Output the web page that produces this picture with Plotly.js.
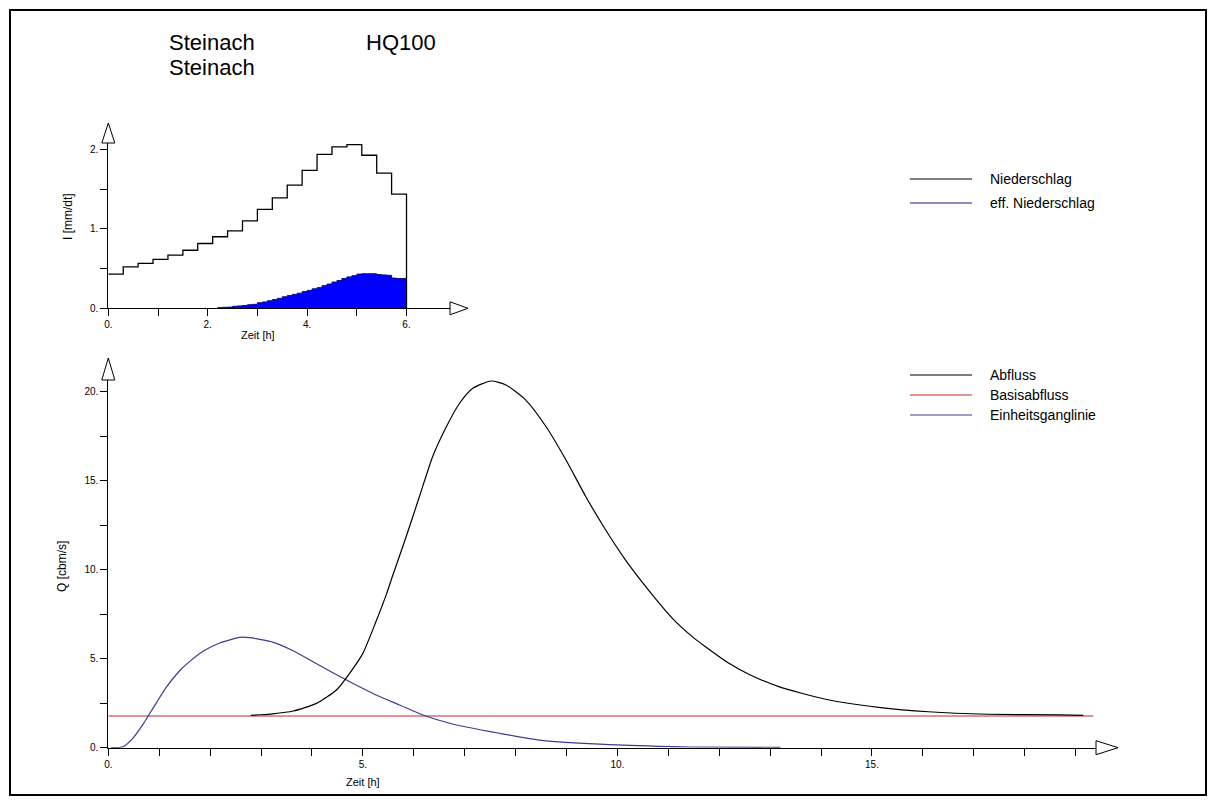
<!DOCTYPE html>
<html><head><meta charset="utf-8">
<script src="https://cdn.plot.ly/plotly-3.0.1.min.js"></script>
<style>html,body{margin:0;padding:0;background:#fff}#c{width:1215px;height:803px}</style>
</head><body><div id="c"></div>
<script>
// ---------- data ----------
// Niederschlag (rain), 0.3 h steps, value per step [mm/dt]
const rainStartT = [0,0.3,0.6,0.9,1.2,1.5,1.8,2.1,2.4,2.7,3.0,3.3,3.6,3.9,4.2,4.5,4.8,5.1,5.4,5.7,6.0];
const rainI = [0.43,0.52,0.565,0.615,0.67,0.73,0.815,0.90,0.975,1.10,1.245,1.39,1.55,1.735,1.935,2.03,2.06,1.925,1.70,1.435];
// effektiver Niederschlag, 0.1 h steps from 2.2 h
const effT = [2.2,2.3,2.4,2.5,2.6,2.7,2.8,2.9,3.0,3.1,3.2,3.3,3.4,3.5,3.6,3.7,3.8,3.9,4.0,4.1,4.2,4.3,4.4,4.5,4.6,4.7,4.8,4.9,5.0,5.1,5.2,5.3,5.4,5.5,5.6,5.7,5.8,5.9,6.0];
const effI = [0.01,0.013,0.015,0.025,0.03,0.035,0.045,0.05,0.07,0.08,0.095,0.11,0.125,0.145,0.16,0.175,0.19,0.21,0.225,0.245,0.26,0.285,0.305,0.33,0.35,0.375,0.395,0.41,0.43,0.435,0.435,0.435,0.425,0.42,0.415,0.38,0.375,0.375];
// Abfluss
const qT = [2.8,3.0,3.23,3.63,4.09,4.48,4.74,5.0,5.26,5.46,5.59,5.85,6.11,6.37,6.64,6.9,7.16,7.52,7.81,8.2,8.6,8.99,9.38,9.77,10.16,10.56,11.08,11.47,11.73,12.19,12.6,13.17,14.09,15.13,16.11,17.29,18.66,19.15];
const qQ = [1.82,1.85,1.9,2.06,2.49,3.24,4.18,5.3,7.1,8.6,9.7,11.85,14.1,16.35,18.03,19.35,20.19,20.6,20.38,19.53,18.03,16.16,14.1,12.23,10.54,9.04,7.27,6.24,5.67,4.74,4.1,3.43,2.72,2.27,2.02,1.88,1.84,1.82];
// Basisabfluss
const baseT = [0,19.35];
const baseQ = [1.78,1.78];
// Einheitsganglinie
const uhT = [0.05,0.29,0.49,0.69,0.82,0.95,1.14,1.41,1.6,1.86,2.19,2.58,2.78,3.24,3.63,4.02,4.41,4.8,5.26,5.72,6.18,6.76,7.68,8.47,9.65,10.8,11.4,13.2];
const uhQ = [0.0,0.05,0.55,1.35,1.95,2.55,3.4,4.35,4.85,5.42,5.88,6.2,6.18,5.92,5.45,4.83,4.21,3.62,2.96,2.4,1.84,1.33,0.81,0.43,0.2,0.08,0.04,0.02];
// tick labels
const topXTicks = [0,1,2,3,4,5,6];
const topXText = ['0.','','2.','','4.','','6.'];
const topYTicks = [0,0.5,1,1.5,2];
const topYText = ['0.','','1.','','2.'];
const botXTicks = [0,1,2,3,4,5,6,7,8,9,10,11,12,13,14,15,16,17,18,19];
const botXText = ['0.','','','','','5.','','','','','10.','','','','','15.','','','',''];
const botYTicks = [0,2.5,5,7.5,10,12.5,15,17.5,20];
const botYText = ['0.','','5.','','10.','','15.','','20.'];

// ---------- layout helpers ----------
const W=1215,H=803;
const px=x=>x/W, py=y=>1-y/H;
const C_UH='#3c3c8c', C_RED='#c42a2a', C_EFF='#0000ff', C_EFFL='#1a1a80';

const rainX = rainStartT.concat([6.0]);
const rainY = rainI.concat([rainI[rainI.length-1],0]);
rainX.push(6.0);
const effY = effI.concat([effI[effI.length-1]]);

const traces = [
 {x:effT, y:effY, type:'scatter', mode:'lines', line:{shape:'hv', color:'#10107a', width:1}, fill:'tozeroy', fillcolor:C_EFF, xaxis:'x', yaxis:'y', name:'eff. Niederschlag', showlegend:false, hoverinfo:'skip'},
 {x:rainX, y:rainY, type:'scatter', mode:'lines', line:{shape:'hv', color:'#000', width:1.3}, xaxis:'x', yaxis:'y', name:'Niederschlag', showlegend:false},
 {x:baseT, y:baseQ, type:'scatter', mode:'lines', line:{color:C_RED, width:1.2}, xaxis:'x2', yaxis:'y2', name:'Basisabfluss', showlegend:false},
 {x:uhT, y:uhQ, type:'scatter', mode:'lines', line:{color:C_UH, width:1.2, shape:'spline', smoothing:0.6}, xaxis:'x2', yaxis:'y2', name:'Einheitsganglinie', showlegend:false},
 {x:qT, y:qQ, type:'scatter', mode:'lines', line:{color:'#000', width:1.2, shape:'spline', smoothing:0.6}, xaxis:'x2', yaxis:'y2', name:'Abfluss', showlegend:false}
];

const tf = {family:'Liberation Sans, Arial, sans-serif', size:10, color:'#000'};
const ax = (o)=>Object.assign({showline:true, linecolor:'#000', linewidth:1, ticks:'outside', ticklen:7, tickwidth:1, tickcolor:'#000', showgrid:false, zeroline:false, tickfont:tf, tickmode:'array', fixedrange:true}, o);

function arrowRight(x0,yc,len,h){return {type:'path', xref:'paper', yref:'paper', line:{color:'#000',width:1}, fillcolor:'#fff',
  path:`M ${px(x0)},${py(yc-h/2)} L ${px(x0+len)},${py(yc)} L ${px(x0)},${py(yc+h/2)} Z`};}
function arrowUp(xc,y0,len,w){return {type:'path', xref:'paper', yref:'paper', line:{color:'#000',width:1}, fillcolor:'#fff',
  path:`M ${px(xc-w/2)},${py(y0)} L ${px(xc)},${py(y0-len)} L ${px(xc+w/2)},${py(y0)} Z`};}
function hline(x0,x1,y,color){return {type:'line', xref:'paper', yref:'paper', x0:px(x0), x1:px(x1), y0:py(y), y1:py(y), line:{color:color,width:1.2}};}

const shapes = [
 {type:'rect', xref:'paper', yref:'paper', x0:px(10), x1:px(1206), y0:py(10), y1:py(795), line:{color:'#000', width:2}},
 arrowRight(450,308.3,18,13),
 arrowUp(108.3,143,20,13),
 arrowRight(1096,747.7,22,14),
 arrowUp(108.3,380,22,13),
 hline(910,972,179,'#000'),
 hline(910,972,203,C_EFFL),
 hline(910,972,375,'#000'),
 hline(910,972,395,C_RED),
 hline(910,972,415,C_UH)
];

const lf = {family:'Liberation Sans, Arial, sans-serif', size:14, color:'#000'};
const hf = {family:'Liberation Sans, Arial, sans-serif', size:22, color:'#000'};
const af = {family:'Liberation Sans, Arial, sans-serif', size:11, color:'#000'};
const af2 = {family:'Liberation Sans, Arial, sans-serif', size:12, color:'#000'};
function txt(t,x,y,f,o){return Object.assign({text:t, xref:'paper', yref:'paper', x:px(x), y:py(y), xanchor:'left', yanchor:'middle', showarrow:false, font:f}, o||{});}

const annotations = [
 txt('Steinach',167,43,hf),
 txt('Steinach',167,67,hf),
 txt('HQ100',364,43,hf),
 txt('Niederschlag',988,179,lf),
 txt('eff. Niederschlag',988,203,lf),
 txt('Abfluss',988,375,lf),
 txt('Basisabfluss',988,395,lf),
 txt('Einheitsganglinie',988,415,lf),
 txt('I [mm/dt]',68,217,af2,{xanchor:'center', textangle:-90}),
 txt('Zeit [h]',258,335,af,{xanchor:'center'}),
 txt('Q [cbm/s]',62,567,af2,{xanchor:'center', textangle:-90}),
 txt('Zeit [h]',363,782,af,{xanchor:'center'})
];

const layout = {
 width:W, height:H, margin:{l:0,r:0,t:0,b:0}, paper_bgcolor:'#fff', plot_bgcolor:'rgba(0,0,0,0)', showlegend:false,
 xaxis: ax({domain:[px(108.3),px(450)], range:[0,6.875], anchor:'y', tickvals:topXTicks, ticktext:topXText}),
 yaxis: ax({domain:[py(308.3),py(143)], range:[0,(308.3-143)/79.5], anchor:'x', tickvals:topYTicks, ticktext:topYText}),
 xaxis2: ax({domain:[px(108.3),px(1096)], range:[0,19.4], anchor:'y2', tickvals:botXTicks, ticktext:botXText}),
 yaxis2: ax({domain:[py(747.7),py(380)], range:[0,(747.7-380)/17.8], anchor:'x2', tickvals:botYTicks, ticktext:botYText}),
 shapes: shapes, annotations: annotations
};
Plotly.newPlot('c', traces, layout, {staticPlot:true, displayModeBar:false});
</script></body></html>
